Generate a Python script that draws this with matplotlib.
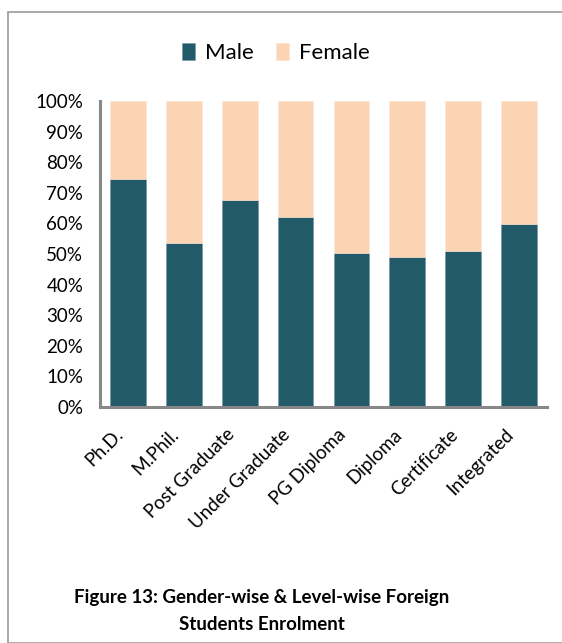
import matplotlib.pyplot as plt
import matplotlib.transforms as mtransforms
import numpy as np
from matplotlib.patches import Rectangle

# Data
levels = ['Ph.D.', 'M.Phil.', 'Post Graduate', 'Under Graduate',
          'PG Diploma', 'Diploma', 'Certificate', 'Integrated']
male_share = [74.4, 53.7, 67.5, 62.0, 50.2, 48.9, 50.9, 59.9]
female_share = [100 - m for m in male_share]

male_color = '#235A69'
female_color = '#FBD4B4'
axis_gray = '#888888'

plt.rcParams['font.family'] = ['Lato', 'DejaVu Sans']

fig = plt.figure(figsize=(5.62, 6.43), dpi=100)
W, H = 562, 643

# outer frame of the chart box
fig.patches.append(Rectangle((8 / W, 0), 1, 1 - 12 / H, transform=fig.transFigure,
                             fill=False, edgecolor='#999999', linewidth=1.2))

ax = fig.add_axes([100 / W, 1 - 407 / H, 447 / W, 306 / H])
x = np.arange(len(levels))
ax.bar(x, male_share, width=0.64, color=male_color, label='Male',
       edgecolor='#6f97a3', linewidth=0.4)
ax.bar(x, female_share, width=0.64, bottom=male_share, color=female_color,
       label='Female', edgecolor='#fde6d3', linewidth=0.4)

ax.set_xlim(-0.5, 7.5)
ax.set_ylim(0, 100)
ax.set_yticks(range(0, 101, 10))
ax.set_yticklabels([f'{v}%' for v in range(0, 101, 10)], fontsize=13.5)
ax.set_xticks(x)
ax.set_xticklabels(levels, rotation=45, ha='right', rotation_mode='anchor', fontsize=13.5)
ax.tick_params(length=0)
ax.tick_params(axis='y', pad=12)
ax.tick_params(axis='x', pad=12)

# nudge the slanted labels a little left like the original
shift = mtransforms.ScaledTranslation(-14 / 100, -2 / 100, fig.dpi_scale_trans)
for lbl in ax.get_xticklabels():
    lbl.set_transform(lbl.get_transform() + shift)

for side in ['top', 'right']:
    ax.spines[side].set_visible(False)
for side in ['left', 'bottom']:
    ax.spines[side].set_color(axis_gray)
    ax.spines[side].set_linewidth(2.2)

ax.legend(loc='center', bbox_to_anchor=(276 / W, 1 - 53 / H),
          bbox_transform=fig.transFigure, ncol=2, frameon=False, fontsize=16,
          handlelength=0.6, handleheight=0.85, handletextpad=0.45, columnspacing=1.0)

fig.text(262 / W, 1 - 598 / H, 'Figure 13: Gender-wise & Level-wise Foreign',
         ha='center', va='center', fontsize=13.5, fontweight='bold')
fig.text(262 / W, 1 - 625 / H, 'Students Enrolment',
         ha='center', va='center', fontsize=13.5, fontweight='bold')

fig.savefig('out.png', dpi=100)
